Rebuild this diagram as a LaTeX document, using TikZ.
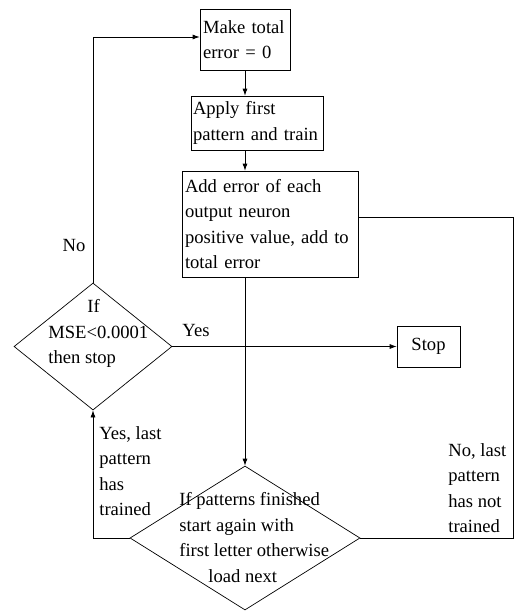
\documentclass[tikz,border=0pt]{standalone}
\usepackage{fontspec}
\setmainfont{Liberation Serif}
\usetikzlibrary{shapes.geometric,arrows.meta}
\tikzset{
  procbox/.style={draw, align=left, inner xsep=3pt, inner ysep=0pt},
  decision/.style={draw, diamond, inner sep=0pt},
  flowtext/.style={align=left, inner sep=0pt},
  arr/.style={-{Latex[length=7pt,width=5pt]}}
}
\begin{document}
\begin{tikzpicture}[x=1pt,y=-1pt,line width=0.7pt,font=\fontsize{18.6}{25.5}\selectfont]
\useasboundingbox (0,0) rectangle (514,611);
% boxes
\node[procbox, text width=84pt, minimum height=61pt] (zero) at (245,39.5) {Make total\\error = 0};
\node[procbox, inner xsep=2pt, text width=128pt, minimum height=54pt] (apply) at (257,123) {Apply first\\pattern and train};
\node[procbox, text width=170pt, minimum height=106pt] (adderr) at (270,224) {Add error of each\\output neuron\\positive value, add to\\total error};
\node[procbox, align=center, minimum width=63pt, minimum height=41pt] (stop) at (428.5,346.5) {Stop};
% decisions
\node[decision, minimum width=158pt, minimum height=127pt] (mse) at (93,346.5) {};
\node[flowtext, anchor=west] (msetext) at (48,333.5) {\hspace*{39pt}If\\MSE<0.0001\\then stop};
\node[decision, minimum width=230pt, minimum height=144pt] (last) at (245,538) {};
\node[flowtext, anchor=west] (lasttext) at (179,537.5) {If patterns finished\\start again with\\first letter otherwise\\\hspace*{29pt}load next};
\coordinate (rim) at (513,0);
% labels
\node[inner sep=0pt] (no) at (74,245) {No};
\node[inner sep=0pt] (yes) at (196,330) {Yes};
\node[flowtext, anchor=west] (yeslast) at (99,471) {Yes, last\\pattern\\has\\trained};
\node[flowtext, anchor=west] (nolast) at (448,488) {No, last\\pattern\\has not\\trained};
% connectors
\draw[arr] (zero.south) -- (zero.south |- apply.north);
\draw[arr] (zero.south |- apply.south) -- (zero.south |- adderr.north);
\draw[arr] (last.north |- adderr.south) -- (last.north);
\draw ([yshift=7pt]adderr.east) -- ([yshift=7pt]adderr.east -| rim) |- (last.east);
\draw[arr] (last.west) -| (mse.south);
\draw[arr] (mse.east) -- (stop.west);
\draw[arr] (mse.north) |- ([yshift=2.5pt]zero.west);
\end{tikzpicture}
\end{document}
